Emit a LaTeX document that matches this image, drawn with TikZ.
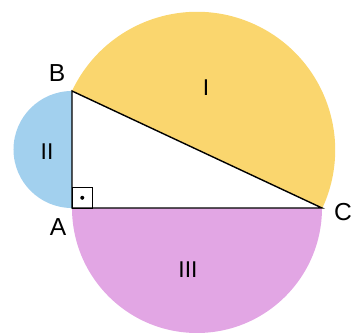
\documentclass[tikz,border=0pt]{standalone}
\usepackage{fontspec}
\setmainfont{Liberation Sans}
\usepackage{tikz}
\definecolor{yellowI}{RGB}{250,214,110}
\definecolor{blueII}{RGB}{162,208,238}
\definecolor{purpleIII}{RGB}{226,166,228}
\newcommand{\anglebox}{\draw[thin] (0,0) rectangle (0.41,0.41); \fill (0.205,0.205) circle (0.04);}

\begin{document}
\begin{tikzpicture}[line width=0.8pt]
    \useasboundingbox (-1.44,-2.48) rectangle (5.84,4.16);
    \coordinate (A) at (0,0);
    \coordinate (B) at (0,2.34);
    \coordinate (C) at (5,0);
    \fill[yellowI] (B) arc[start angle=154.73, end angle=-25.27, radius=2.764cm] -- cycle;
    \fill[blueII] (A) arc[start angle=270, end angle=90, radius=1.17cm] -- cycle;
    \fill[purpleIII] (A) arc[start angle=180, end angle=360, radius=2.5cm] -- cycle;
    \fill[white] (A) -- (B) -- (C) -- cycle;
    \draw (A) -- (B) -- (C) -- cycle;
    \anglebox
    \node (lblA) at (-0.28,-0.38) {\fontsize{14}{16}\selectfont A};
    \node (lblB) at (-0.3,2.7) {\fontsize{14}{16}\selectfont B};
    \node (lblC) at (5.42,-0.08) {\fontsize{14}{16}\selectfont C};
    \node (regI) at (2.68,2.4) {\fontsize{13}{15}\selectfont I};
    \node (regII) at (-0.5,1.12) {\fontsize{13}{15}\selectfont II};
    \node (regIII) at (2.32,-1.24) {\fontsize{13}{15}\selectfont III};
\end{tikzpicture}
\end{document}
